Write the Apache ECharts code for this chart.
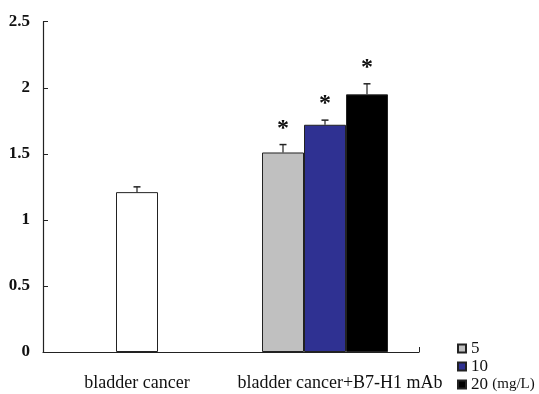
<!DOCTYPE html>
<html><head><meta charset="utf-8">
<script src="https://cdn.jsdelivr.net/npm/echarts@6/dist/echarts.min.js"></script>
<style>html,body{margin:0;padding:0;background:#fff}#c{width:539px;height:394px}</style>
</head><body><div id="c"></div>
<script>
var categories = ['bladder cancer', 'bladder cancer+B7-H1 mAb'];
var doseNames = ['5', '10', '20'];
var controlValue = 1.21;
var controlErr = 0.04;
var doseValues = [1.51, 1.72, 1.95];
var doseErrs = [0.06, 0.035, 0.08];
var doseSignificant = [true, true, true];
var yTicks = [0, 0.5, 1, 1.5, 2, 2.5];

var barW = 42;
var colors = ['#C0C0C0', '#2F3192', '#000000'];
var font = '"Liberation Serif", "Times New Roman", serif';

// error rows: [categoryIndex, value, err, slotOffset, significant]
var errRows = [[0, controlValue, controlErr, 0, 0]];
doseValues.forEach(function (v, i) {
  errRows.push([1, v, doseErrs[i], i - 1, doseSignificant[i] ? 1 : 0]);
});

var series = [{
  name: 'control', type: 'bar', xAxisIndex: 0, barWidth: barW,
  data: [controlValue, '-'],
  itemStyle: { color: '#fff', borderColor: '#222', borderWidth: 1 }
}];
doseNames.forEach(function (n, i) {
  series.push({
    name: n, type: 'bar', xAxisIndex: 1, barWidth: barW, barGap: '0%',
    data: ['-', doseValues[i]],
    itemStyle: { color: colors[i], borderColor: '#222', borderWidth: 1 }
  });
});
series.push({
  type: 'custom', xAxisIndex: 0, z: 5, silent: true,
  data: errRows,
  renderItem: function (params, api) {
    var c = api.value(0), v = api.value(1), e = api.value(2), off = api.value(3), sig = api.value(4);
    var p0 = api.coord([c, v]);
    var p1 = api.coord([c, v + e]);
    var x = p0[0] + off * barW;
    var children = [
      { type: 'line', shape: { x1: x, y1: p0[1], x2: x, y2: p1[1] }, style: { stroke: '#222', lineWidth: 1.2 } },
      { type: 'line', shape: { x1: x - 3.5, y1: p1[1], x2: x + 3.5, y2: p1[1] }, style: { stroke: '#222', lineWidth: 1.5 } }
    ];
    if (sig) {
      children.push({ type: 'text', style: { text: '*', x: x, y: p1[1] - 4, align: 'center', verticalAlign: 'bottom',
        font: 'bold 24px ' + font, fill: '#111' } });
    }
    return { type: 'group', children: children };
  }
});

var chart = echarts.init(document.getElementById('c'), null, { renderer: 'canvas' });
chart.setOption({
  animation: false,
  backgroundColor: '#fff',
  grid: { left: 43, top: 21.7, right: 120, bottom: 42, containLabel: false },
  legend: {
    data: doseNames, orient: 'vertical', left: 457, top: 340, height: 80, width: 84,
    itemWidth: 8, itemHeight: 8, itemGap: 1, icon: 'rect', padding: 0,
    textStyle: { fontFamily: font, fontSize: 17, color: '#111', lineHeight: 17, padding: 0,
      rich: { u: { fontFamily: font, fontSize: 15, color: '#111' } } },
    formatter: function (name) { return name === '20' ? name + ' {u|(mg/L)}' : name; }
  },
  xAxis: [{
    type: 'category', data: [categories[0], { value: categories[1], textStyle: { padding: [0, 0, 0, 30] } }],
    axisLine: { lineStyle: { color: '#222', width: 1.2 } },
    axisTick: { show: true, inside: true, length: 5, lineStyle: { color: '#222' },
      interval: function (i) { return i === 1; } },
    axisLabel: { interval: 0, fontFamily: font, fontSize: 18, color: '#111', margin: 22 }
  }, {
    type: 'category', data: categories, show: false
  }],
  yAxis: {
    type: 'value', min: yTicks[0], max: yTicks[yTicks.length - 1], interval: 0.5,
    axisLine: { show: true, lineStyle: { color: '#222', width: 1.2 } },
    axisTick: { show: true, inside: true, length: 5, lineStyle: { color: '#222' } },
    splitLine: { show: false },
    axisLabel: { fontFamily: font, fontSize: 17, fontWeight: 'bold', color: '#111', margin: 13 }
  },
  series: series
});
</script></body></html>
